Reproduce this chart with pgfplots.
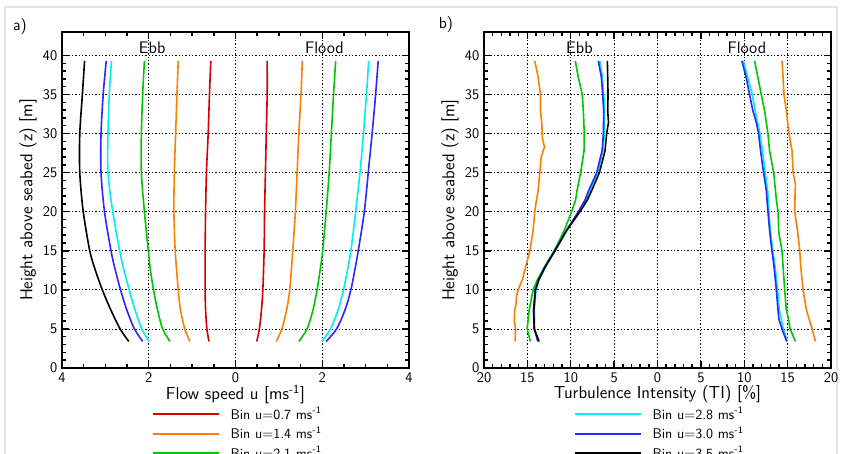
\documentclass[border=0pt]{standalone}
\usepackage{pgfplots}
\pgfplotsset{compat=1.18}
\renewcommand{\familydefault}{\sfdefault}
\definecolor{cRed}{RGB}{215,0,0}
\definecolor{cOrange}{RGB}{255,128,0}
\definecolor{cGreen}{RGB}{0,200,0}
\definecolor{cCyan}{RGB}{0,240,240}
\definecolor{cBlue}{RGB}{40,40,255}
\definecolor{cFrame}{RGB}{228,228,228}
\pgfplotsset{
  common/.style={
    scale only axis, width=260.25pt, height=252pt,
    ymin=0, ymax=43, ytick={0,5,...,40}, minor y tick num=4,
    grid=major,
    major grid style={black, dash pattern=on 0.9pt off 1.6pt, line width=0.6pt},
    axis line style={line width=1.4pt},
    tick style={black, line width=1.1pt},
    major tick length=5pt, minor tick length=3pt, tick align=inside,
    ticklabel style={font=\fontsize{11}{13}\selectfont},
    /pgf/number format/assume math mode=true,
    label style={font=\fontsize{13}{15}\selectfont},
    xlabel style={at={(0.5,-0.079)}, anchor=center},
    ylabel style={at={(-0.098,0.5)}, anchor=center},
    ylabel={Height above seabed (z) [m]},
    legend style={draw=none, fill=none, inner sep=0pt, font=\fontsize{10.5}{12}\selectfont,
      row sep=0.2pt, cells={anchor=west}, /tikz/every odd column/.append style={column sep=6pt}},
    legend image code/.code={\draw[#1, line width=1.3pt] (0pt,0pt) -- (49.5pt,0pt);},
    every axis plot/.append style={line width=1.2pt},
  }
}
\begin{document}
\begin{tikzpicture}
\draw[cFrame, line width=0.8pt] (3.75pt,-20pt) -- (3.75pt,334.5pt) -- (627.75pt,334.5pt) -- (627.75pt,-20pt);
\node[font=\fontsize{12}{14}\selectfont] at (15pt,319.5pt) {a)};
\node[font=\fontsize{12}{14}\selectfont] at (334.5pt,321pt) {b)};
% ---------------- panel a
\begin{axis}[common, at={(46.5pt,63.75pt)}, anchor=south west,
  xmin=-4, xmax=4, xtick={-4,-2,0,2,4}, xticklabels={4,2,0,2,4}, minor x tick num=3,
  xlabel={Flow speed u [ms\textsuperscript{-1}]},
  legend style={at={(0.259,-0.108)}, anchor=north west}]
\addplot[cRed, smooth] coordinates {(-0.61,3.4) (-0.66,5) (-0.69,7.5) (-0.70,10) (-0.70,15) (-0.69,20) (-0.67,25) (-0.63,30) (-0.60,35) (-0.57,39.3)};
\addlegendentry{Bin u=0.7 ms\textsuperscript{-1}}
\addplot[cOrange, smooth] coordinates {(-1.05,3.4) (-1.17,5) (-1.27,7.5) (-1.32,10) (-1.39,15) (-1.42,20) (-1.41,25) (-1.38,30) (-1.35,35) (-1.32,39.3)};
\addlegendentry{Bin u=1.4 ms\textsuperscript{-1}}
\addplot[cGreen, smooth] coordinates {(-1.51,3.4) (-1.68,5) (-1.80,7.5) (-1.89,10) (-1.96,12.5) (-2.01,15) (-2.10,20) (-2.17,25) (-2.17,30) (-2.14,35) (-2.10,39.3)};
\addlegendentry{Bin u=2.1 ms\textsuperscript{-1}}
\addplot[cCyan, smooth, forget plot] coordinates {(-1.99,3.4) (-2.16,5) (-2.32,7.5) (-2.45,10) (-2.57,12.5) (-2.67,15) (-2.83,20) (-2.94,25) (-2.94,30) (-2.91,35) (-2.86,39.3)};
\addplot[cBlue, smooth, forget plot] coordinates {(-2.14,3.4) (-2.33,5) (-2.51,7.5) (-2.65,10) (-2.77,12.5) (-2.87,15) (-3.02,20) (-3.10,25) (-3.10,30) (-3.05,35) (-2.98,39.3)};
\addplot[black, smooth, forget plot] coordinates {(-2.46,3.4) (-2.66,5) (-2.88,7.5) (-3.07,10) (-3.23,12.5) (-3.36,15) (-3.51,20) (-3.59,25) (-3.59,30) (-3.53,35) (-3.48,39.3)};
% flood
\addplot[cRed, smooth, forget plot] coordinates {(0.49,3.4) (0.55,5) (0.60,7.5) (0.63,10) (0.66,15) (0.67,20) (0.69,25) (0.71,30) (0.73,35) (0.73,39.3)};
\addplot[cOrange, smooth, forget plot] coordinates {(0.94,3.4) (1.07,5) (1.18,7.5) (1.25,10) (1.32,15) (1.38,20) (1.42,25) (1.46,30) (1.51,35) (1.54,39.3)};
\addplot[cGreen, smooth, forget plot] coordinates {(1.46,3.4) (1.65,5) (1.79,7.5) (1.88,10) (1.95,12.5) (2.01,15) (2.09,20) (2.16,25) (2.21,30) (2.26,35) (2.31,39.3)};
\addplot[cCyan, smooth, forget plot] coordinates {(1.99,3.4) (2.19,5) (2.37,7.5) (2.49,10) (2.58,12.5) (2.66,15) (2.77,20) (2.87,25) (2.95,30) (3.02,35) (3.07,39.3)};
\addplot[cBlue, smooth, forget plot] coordinates {(2.09,3.4) (2.33,5) (2.53,7.5) (2.66,10) (2.75,12.5) (2.83,15) (2.97,20) (3.06,25) (3.15,30) (3.23,35) (3.29,39.3)};
\node[font=\fontsize{12.5}{14}\selectfont] at (axis cs:-1.92,41.0) {Ebb};
\node[font=\fontsize{12.5}{14}\selectfont] at (axis cs:2.05,41.0) {Flood};
\end{axis}
% ---------------- panel b
\begin{axis}[common, at={(363pt,63.75pt)}, anchor=south west,
  xmin=-20, xmax=20, xtick={-20,-15,...,20}, xticklabels={20,15,10,5,0,5,10,15,20}, minor x tick num=4,
  xlabel={Turbulence Intensity (TI) [\%]},
  legend style={at={(0.259,-0.108)}, anchor=north west}]
\addplot[cOrange, forget plot] coordinates {(-16.42,3.4) (-16.35,5) (-16.5,6) (-16.46,7.4) (-16.3,8.2) (-16.27,9.1) (-16.07,10) (-15.58,11.3) (-15.19,13) (-14.72,15) (-14.5,16.5) (-14.34,17.6) (-14.15,20) (-13.95,21.5) (-13.76,22.7) (-13.57,25) (-13.41,27) (-13.03,28.3) (-13.26,29.3) (-13.34,31.3) (-13.49,32.9) (-13.49,35) (-13.76,37.2) (-14.14,39.3)};
\addplot[cGreen, forget plot] coordinates {(-14.65,3.4) (-15.03,5) (-14.80,7.4) (-14.34,10) (-13.84,11.3) (-12.99,13) (-11.91,15) (-10.75,17.6) (-9.91,20) (-9.44,21.5) (-9.28,22.7) (-8.86,25) (-8.47,27.8) (-8.44,30) (-8.55,32.9) (-8.67,35) (-9.13,37.2) (-9.48,39.3)};
\addplot[cCyan] coordinates {(-13.7,3.4) (-14.15,5) (-14.2,7.4) (-14.0,10) (-13.65,11.3) (-12.9,13) (-11.8,15) (-10.45,17.6) (-9.05,20) (-8.25,21.5) (-7.80,22.7) (-6.90,25) (-6.30,27.8) (-6.10,30) (-6.10,32.9) (-6.20,35) (-6.35,37.2) (-6.65,39.3)};
\addlegendentry{Bin u=2.8 ms\textsuperscript{-1}}
\addplot[cBlue] coordinates {(-13.8,3.4) (-14.2,5) (-14.3,7.4) (-14.1,10) (-13.72,11.3) (-12.95,13) (-11.85,15) (-10.5,17.6) (-9.13,20) (-8.36,21.5) (-7.94,22.7) (-7.01,25) (-6.39,27.8) (-6.24,30) (-6.20,32.9) (-6.32,35) (-6.47,37.2) (-6.82,39.3)};
\addlegendentry{Bin u=3.0 ms\textsuperscript{-1}}
\addplot[black] coordinates {(-13.65,3.4) (-14.22,5) (-14.26,7.4) (-14.07,10) (-13.68,11.3) (-12.91,13) (-11.83,15) (-10.48,17.6) (-8.94,20) (-8.09,21.5) (-7.59,22.7) (-6.70,25) (-6.05,27.8) (-5.86,30) (-5.65,31.4) (-5.74,32.9) (-5.70,35) (-5.74,37.2) (-5.78,39.3)};
\addlegendentry{Bin u=3.5 ms\textsuperscript{-1}}
% flood
\addplot[cOrange, forget plot] coordinates {(18.21,3.4) (17.82,5) (17.17,7.4) (16.78,10) (16.51,13) (16.40,15) (16.13,17.6) (15.82,20) (15.85,22) (15.90,23.5) (15.63,25) (15.51,27.8) (15.16,30) (14.85,32.9) (14.58,35) (14.47,37.2) (14.35,39.3)};
\addplot[cGreen, forget plot] coordinates {(15.90,3.4) (15.28,5) (15.12,6.2) (14.85,7.4) (14.66,10) (14.35,15) (14.0,17.2) (13.97,17.6) (13.9,20) (13.70,21.5) (13.6,22.7) (13.39,25) (12.92,27.8) (12.73,30) (12.35,32.9) (11.96,35) (11.57,37.2) (11.19,39.3)};
\addplot[cCyan, forget plot] coordinates {(14.95,3.4) (14.5,5) (14.05,7.4) (13.85,10) (13.55,13) (13.3,15) (13.0,17.6) (12.85,20) (12.7,22.7) (12.42,25) (12.1,27.8) (11.8,30) (11.55,31.3) (11.27,32.9) (10.92,35) (10.4,37.2) (9.88,39.3)};
\addplot[cBlue, forget plot] coordinates {(14.89,3.4) (14.35,5) (14.0,6.2) (13.89,7.4) (13.70,10) (13.43,13) (13.19,15) (12.92,17.6) (12.73,20) (12.54,22.7) (12.23,25) (11.88,27.8) (11.65,30) (11.42,31.3) (11.0,32.9) (10.61,35) (10.22,37.2) (9.72,39.3)};
\node[font=\fontsize{12.5}{14}\selectfont] at (axis cs:-9.0,41.0) {Ebb};
\node[font=\fontsize{12.5}{14}\selectfont] at (axis cs:10.3,41.0) {Flood};
\end{axis}
\pgfresetboundingbox
\path[use as bounding box] (0pt,0pt) rectangle (630.75pt,339.75pt);
\end{tikzpicture}
\end{document}
